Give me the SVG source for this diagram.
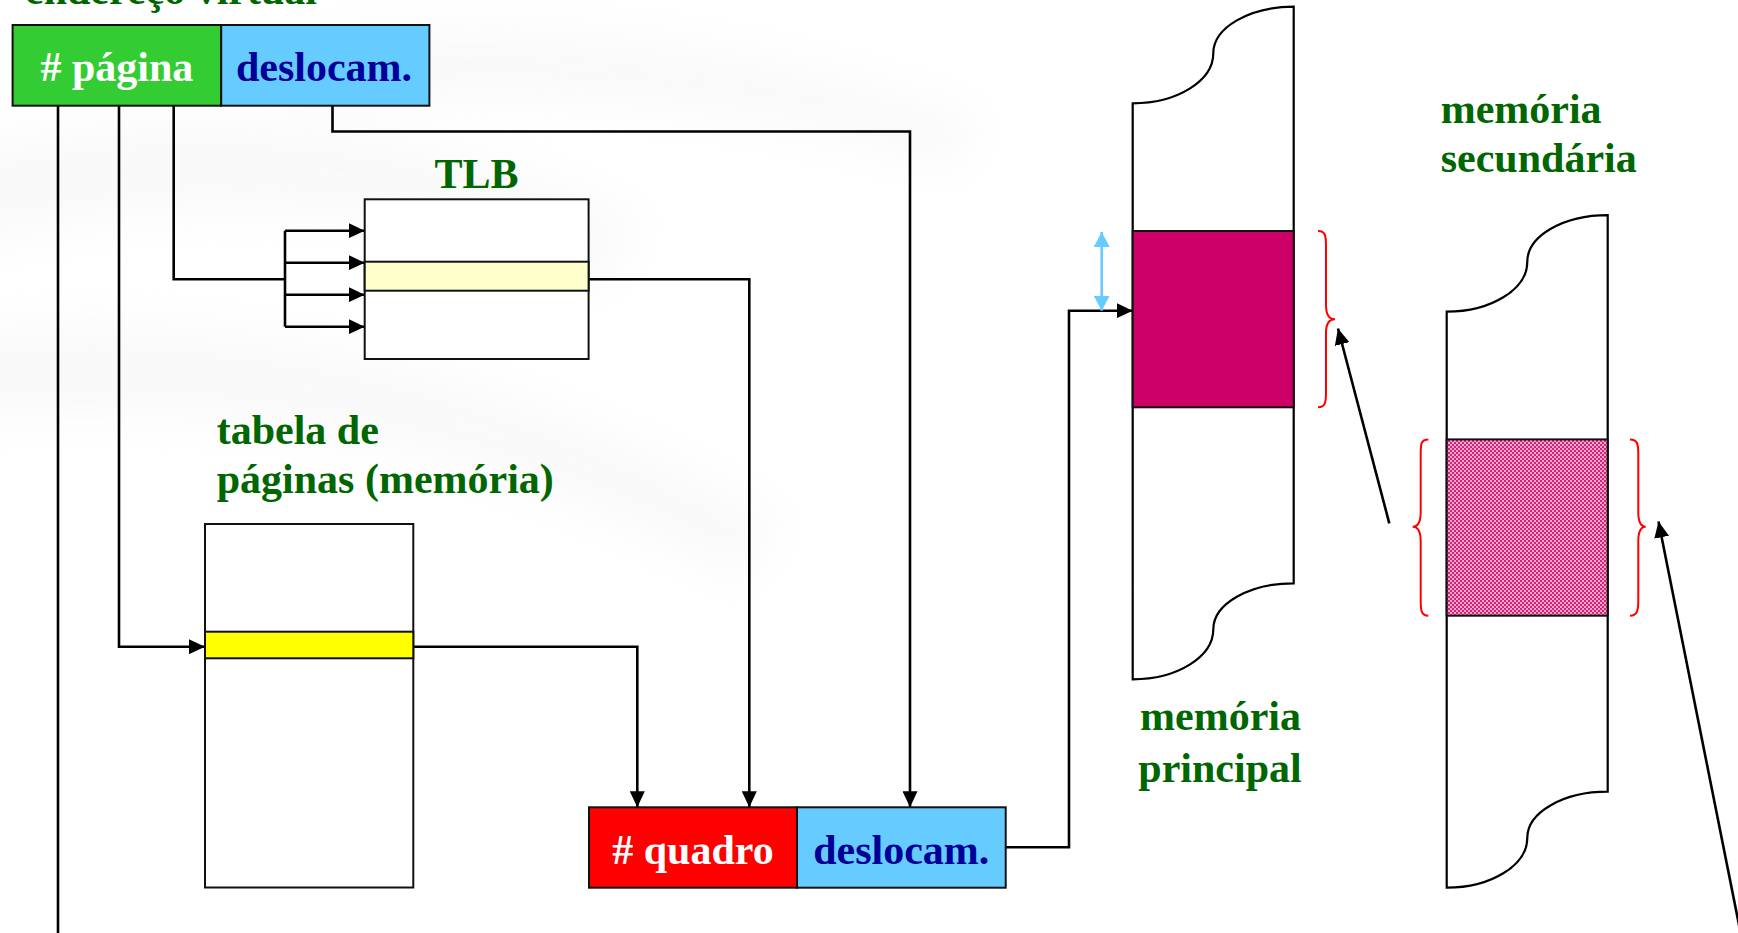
<svg xmlns="http://www.w3.org/2000/svg" width="1738" height="933" viewBox="0 0 1738 933">
  <style>
    .lbl { font-family: "Liberation Serif", "Times New Roman", serif; font-weight: bold; font-size: 42px; }
    .green { fill: #006600; }
    .white { fill: #ffffff; }
    .navy { fill: #000099; }
    .box { stroke: #111111; stroke-width: 2; }
    .wire { fill: none; stroke: #000000; stroke-width: 2.6; }
    .brace { fill: none; stroke: #ff0000; stroke-width: 2; }
    .mem { fill: #ffffff; stroke: #000000; stroke-width: 2.2; }
  </style>
  <defs>
    <marker id="arrow" markerUnits="userSpaceOnUse" markerWidth="16" markerHeight="15" refX="16" refY="7.5" orient="auto">
      <path d="M0,0 L16,7.5 L0,15 Z" fill="#000000"/>
    </marker>
    <marker id="cyanHead" markerUnits="userSpaceOnUse" markerWidth="15" markerHeight="16" refX="15" refY="8" orient="auto-start-reverse">
      <path d="M0,0 L15,8 L0,16 Z" fill="#66ccff"/>
    </marker>
    <pattern id="dither" width="4" height="4" patternUnits="userSpaceOnUse">
      <rect width="4" height="4" fill="#f2a9cd"/>
      <rect x="0" y="0" width="2" height="2" fill="#d42079"/>
      <rect x="2" y="2" width="2" height="2" fill="#d42079"/>
    </pattern>
    <filter id="soft" x="-20%" y="-20%" width="140%" height="140%">
      <feGaussianBlur stdDeviation="20"/>
    </filter>
    <!-- memory column with torn top and bottom edges -->
    <path id="memOutline" d="M1132.7,679.3 V103.3 A80.6,50 0 0 0 1213.3,53.3 A80.4,46.6 0 0 1 1293.7,6.7 V583.3 A80.4,46 0 0 0 1213.3,629.3 A80.6,50 0 0 1 1132.7,679.3 Z"/>
  </defs>

  <!-- faint background texture -->
  <g id="background">
    <rect width="1738" height="933" fill="#ffffff"/>
    <g filter="url(#soft)" fill="#ececec" opacity="0.3">
      <path d="M-40,150 C200,90 420,120 640,220 L600,290 C400,200 200,190 -40,250 Z"/>
      <path d="M-40,330 C220,300 500,360 780,520 L740,580 C480,440 220,400 -40,420 Z"/>
      <path d="M300,40 C520,10 760,40 980,120 L950,170 C740,100 520,90 300,110 Z"/>
    </g>
  </g>

  <!-- connectors -->
  <g id="connectors">
    <path class="wire" d="M58,105.7 V940"/>
    <path class="wire" d="M119,105.7 V646.7 H205" marker-end="url(#arrow)"/>
    <path class="wire" d="M173.7,105.7 V279.3 H285"/>
    <path class="wire" d="M285,230.7 V326.7"/>
    <path class="wire" d="M285,230.7 H364.7" marker-end="url(#arrow)"/>
    <path class="wire" d="M285,262.7 H364.7" marker-end="url(#arrow)"/>
    <path class="wire" d="M285,294.7 H364.7" marker-end="url(#arrow)"/>
    <path class="wire" d="M285,326.7 H364.7" marker-end="url(#arrow)"/>
    <path class="wire" d="M332.5,105.7 V131.5 H910 V807.3" marker-end="url(#arrow)"/>
    <path class="wire" d="M588.6,279.3 H749.3 V807.3" marker-end="url(#arrow)"/>
    <path class="wire" d="M413.3,646.7 H637.3 V807.3" marker-end="url(#arrow)"/>
    <path class="wire" d="M1005.7,847.3 H1069 V310.7 H1132.7" marker-end="url(#arrow)"/>
    <path d="M1101.7,232 V310.7" fill="none" stroke="#66ccff" stroke-width="2.6" marker-start="url(#cyanHead)" marker-end="url(#cyanHead)"/>
    <path class="wire" d="M1389.3,523.3 L1338,328.5" marker-end="url(#arrow)"/>
    <path class="wire" d="M1743,945 L1658.5,521.5" marker-end="url(#arrow)"/>
  </g>

  <!-- virtual address -->
  <g id="virtual-address">
    <text class="lbl green" x="25" y="4">endereço virtual</text>
    <rect class="box" x="12.6" y="25" width="208.6" height="80.7" fill="#33cc33"/>
    <rect class="box" x="221.2" y="25" width="208.2" height="80.7" fill="#66ccff"/>
    <text class="lbl white" x="116.9" y="81" text-anchor="middle"># página</text>
    <text class="lbl navy" x="324" y="81" text-anchor="middle">deslocam.</text>
  </g>

  <!-- TLB -->
  <g id="tlb">
    <text class="lbl green" x="476.6" y="188" text-anchor="middle">TLB</text>
    <rect class="box" x="364.7" y="199.3" width="223.9" height="159.7" fill="#ffffff"/>
    <rect class="box" x="364.7" y="261.7" width="223.9" height="29" fill="#ffffcc"/>
  </g>

  <!-- page table -->
  <g id="page-table">
    <text class="lbl green" x="216.7" y="444">tabela de</text>
    <text class="lbl green" x="216.7" y="493">páginas (memória)</text>
    <rect class="box" x="205" y="524" width="208.3" height="363.5" fill="#ffffff"/>
    <rect class="box" x="205" y="631.7" width="208.3" height="26.6" fill="#ffff00"/>
  </g>

  <!-- physical address -->
  <g id="physical-address">
    <rect class="box" x="589" y="807.3" width="208" height="80.4" fill="#ff0000"/>
    <rect class="box" x="797" y="807.3" width="208.7" height="80.4" fill="#66ccff"/>
    <text class="lbl white" x="693" y="863.5" text-anchor="middle"># quadro</text>
    <text class="lbl navy" x="901.3" y="863.5" text-anchor="middle">deslocam.</text>
  </g>

  <!-- main memory -->
  <g id="main-memory">
    <use href="#memOutline" class="mem"/>
    <rect class="box" x="1132.7" y="231" width="161" height="176.3" fill="#cc0066"/>
    <path class="brace" d="M1318,231 C1325.5,231 1326,236 1326,246 L1326,305 C1326,314 1329,319.3 1335,319.3 C1329,319.3 1326,324 1326,333 L1326,392 C1326,402 1325.5,407.3 1318,407.3"/>
    <text class="lbl green" x="1220.5" y="730" text-anchor="middle">memória</text>
    <text class="lbl green" x="1220" y="781.5" text-anchor="middle">principal</text>
  </g>

  <!-- secondary memory -->
  <g id="secondary-memory">
    <use href="#memOutline" class="mem" transform="translate(314,208.4)"/>
    <rect class="box" x="1446.7" y="439.4" width="161" height="176.3" fill="url(#dither)"/>
    <path class="brace" d="M1428.3,439.4 C1421,439.4 1420.7,444 1420.7,454 L1420.7,512 C1420.7,522 1418,526.7 1412.7,526.7 C1418,526.7 1420.7,531.5 1420.7,541.5 L1420.7,600 C1420.7,610 1421,615.7 1428.3,615.7"/>
    <path class="brace" d="M1630,439.4 C1637.5,439.4 1638.3,444 1638.3,454 L1638.3,512 C1638.3,522 1640.5,526.7 1645.7,526.7 C1640.5,526.7 1638.3,531.5 1638.3,541.5 L1638.3,600 C1638.3,610 1637.5,615.7 1630,615.7"/>
    <text class="lbl green" x="1440.7" y="123">memória</text>
    <text class="lbl green" x="1440.7" y="172">secundária</text>
  </g>
</svg>
